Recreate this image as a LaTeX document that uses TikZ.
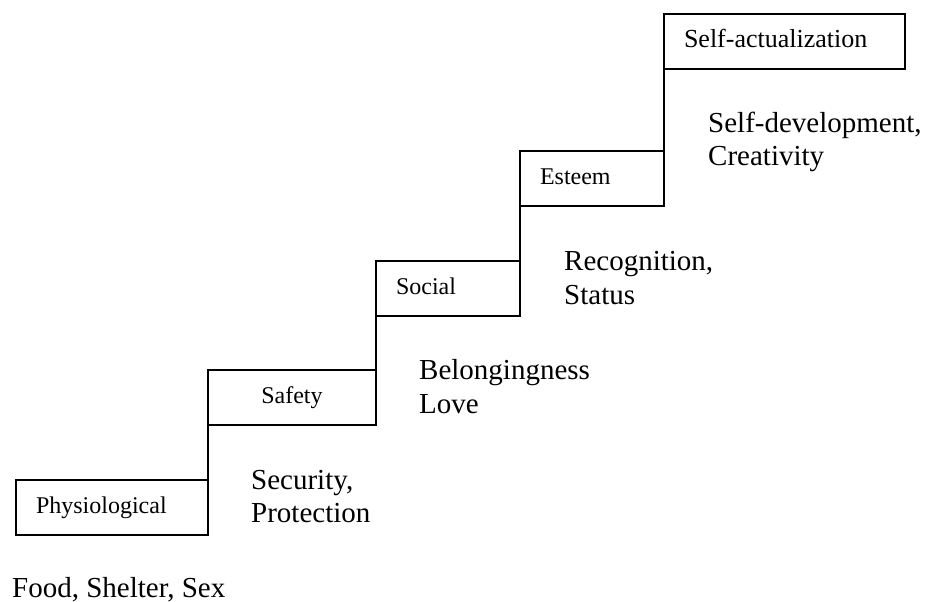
\documentclass[tikz,border=0pt]{standalone}
\usepackage{fontspec}
\setmainfont{Liberation Serif}
\begin{document}
\begin{tikzpicture}[x=1pt,y=-1pt,
  stepbox/.style={draw, line width=1.8pt, outer sep=0pt, inner ysep=0pt, inner xsep=20pt,
    minimum height=55pt, text height=16.3pt, text depth=5.3pt, align=left,
    font=\fontsize{24}{28}\selectfont},
  side/.style={anchor=base west, inner sep=0pt, font=\fontsize{29}{33}\selectfont},
  riser/.style={line width=1.8pt}]
\useasboundingbox (0,0) rectangle (926,602);
% boxes
\node[stepbox, text width=152pt, anchor=north west] (phys) at (16,480) {Physiological};
\node[stepbox, text width=128pt, align=center, anchor=north west] (safe) at (208,370) {Safety};
\node[stepbox, text width=104pt, anchor=north west] (soc) at (376,261) {Social};
\node[stepbox, text width=104pt, anchor=north west] (est) at (520,151) {Esteem};
\node[stepbox, text width=201pt, text height=17.6pt, text depth=5.7pt, font=\fontsize{26}{30}\selectfont, anchor=north west] (self) at (664,14) {Self-actualization};
% risers
\draw[riser] (phys.north east) -- (safe.south west);
\draw[riser] (safe.north east) -- (soc.south west);
\draw[riser] (soc.north east) -- (est.south west);
\draw[riser] (est.north east) -- (self.south west);
% side labels
\node[side] (food) at (12,597) {Food, Shelter, Sex};
\node[side] (sec1) at (251,489) {Security,};
\node[side] (sec2) at (251,522) {Protection};
\node[side] (bel1) at (419,379) {Belongingness};
\node[side] (bel2) at (419,413) {Love};
\node[side] (rec1) at (564,270) {Recognition,};
\node[side] (rec2) at (564,304) {Status};
\node[side] (dev1) at (708,132) {Self-development,};
\node[side] (dev2) at (708,165) {Creativity};
\end{tikzpicture}
\end{document}
